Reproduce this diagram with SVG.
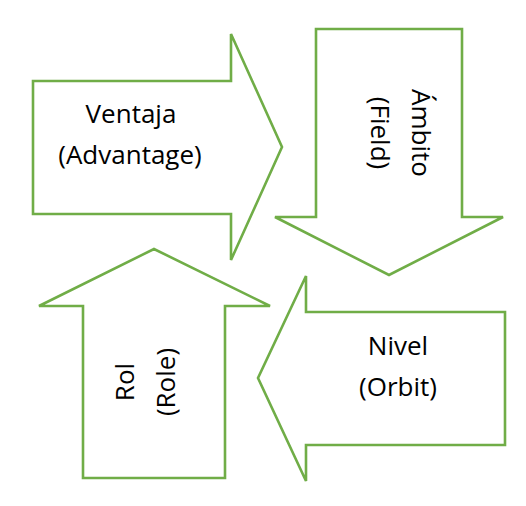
<svg xmlns="http://www.w3.org/2000/svg" width="526" height="506" viewBox="0 0 526 506">
<style>
.arrow{fill:#ffffff;stroke:#70AD47;stroke-width:2.6;stroke-linejoin:miter}
.lbl{font-family:"Open Sans","Liberation Sans",sans-serif;font-size:26px;fill:#000;text-anchor:middle}
</style>
<rect width="526" height="506" fill="#ffffff"/>
<g id="connectors"/>
<g id="ventaja">
<polygon class="arrow" points="33,81 231,81 231,34 282,147 231,260 231,214 33,214"/>
<text class="lbl" x="131" y="123">Ventaja</text>
<text class="lbl" x="130" y="164">(Advantage)</text>
</g>
<g id="ambito">
<polygon class="arrow" points="316,29 462,29 462,217 503,217 389,275 275,217 316,217"/>
<g transform="translate(412,133) rotate(90)">
<text class="lbl" x="0" y="0">Ámbito</text>
<text class="lbl" x="0" y="41">(Field)</text>
</g>
</g>
<g id="nivel">
<polygon class="arrow" points="505,312 505,445 306,445 306,481 258,378 306,276 306,312"/>
<text class="lbl" x="398" y="355">Nivel</text>
<text class="lbl" x="398" y="396">(Orbit)</text>
</g>
<g id="rol">
<polygon class="arrow" points="83,478 83,306 39,306 154,249 270,306 225,306 225,478"/>
<g transform="translate(134,382) rotate(-90)">
<text class="lbl" x="0" y="0">Rol</text>
<text class="lbl" x="0" y="41">(Role)</text>
</g>
</g>
</svg>
